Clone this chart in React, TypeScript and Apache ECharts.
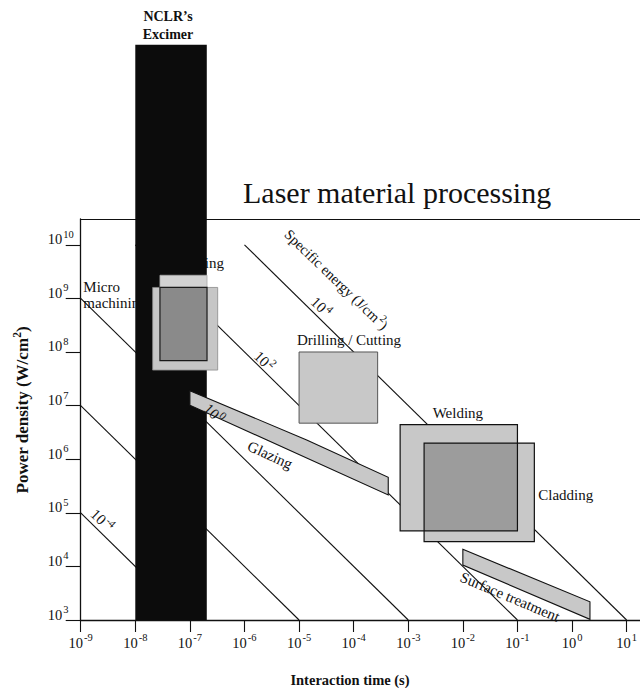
import React, { useEffect, useRef } from "react";
import * as echarts from "echarts";

// ---------- data (real values: interaction time in s, power density in W/cm2) ----------
const xTickExponents = [-9, -8, -7, -6, -5, -4, -3, -2, -1, 0, 1];
const yTickExponents = [3, 4, 5, 6, 7, 8, 9, 10];

// iso specific-energy lines (J/cm2)
const energyExponents = ["-4", "-2", "0", "2", "4"];
const energyLineStart = [[1e-9, 1e5], [1e-9, 1e7], [1e-9, 1e9], [1e-8, 1e10], [1e-6, 1e10]];
const energyLineEnd = [[1e-7, 1e3], [1e-5, 1e3], [1e-3, 1e3], [1e-1, 1e3], [1e1, 1e3]];

// rectangular process windows
const regionNames = ["Marking", "Micro machining", "Drilling / Cutting", "Welding", "Cladding"];
const regionTime = [[2.83e-8, 2.06e-7], [2.08e-8, 3.23e-7], [1e-5, 2.75e-4], [7.1e-4, 1e-1], [1.95e-3, 0.204]];
const regionPower = [[6.9e7, 2.7e9], [4.6e7, 1.6e9], [4.7e6, 1e8], [4.6e4, 4.4e6], [2.9e4, 2.0e6]];

// polygonal process windows
const glazingTime = [1e-7, 1.38e-5, 4.3e-4, 4.3e-4, 1e-7];
const glazingPower = [1.9e7, 2.28e6, 4.6e5, 2.15e5, 1.02e7];
const surfaceTime = [1e-2, 2.13, 2.13, 1e-2];
const surfacePower = [2.08e4, 2.19e3, 1.03e3, 1.06e4];

// NCLR's excimer band
const excimerTime = [1e-8, 2.04e-7];
const excimerPower = [1e3, 5.4e13];

// ---------- annotation anchors (log10 time, log10 power) ----------
const energyLabelAt: (number[] | null)[] = [[-8.59, 4.88], null, [-6.54, 6.87], [-5.62, 7.85], [-4.58, 8.86]];
const specificEnergyAt = [-4.30, 9.37];
const microLabelAt = [-8.952, 9.06];
const markingLabelAt = [-6.375, 9.66];
const drillingLabelAt = [-5.04, 8.224];
const weldingLabelAt = [-2.553, 6.862];
const claddingLabelAt = [-0.619, 5.332];
const glazingLabelAt = [-5.533, 6.078];
const surfaceLabelAt = [-1.137, 3.43];

const X_MIN = -9;
const X_MAX = 1.244;
const Y_MIN = 3;
const Y_MAX = 10.481;

const FONT = '"Liberation Serif", "Times New Roman", serif';
const L = (v: number) => Math.log10(v);

const LIGHT = "#c8c8c8";
const DARK = "#9c9c9c";
const INK = "#111111";

function rectPts(t: number[], p: number[]) {
  const t0 = L(t[0]), t1 = L(t[1]), p0 = L(p[0]), p1 = L(p[1]);
  return [[t0, p0], [t1, p0], [t1, p1], [t0, p1]];
}
function overlapPts(ta: number[], pa: number[], tb: number[], pb: number[]) {
  return rectPts(
    [Math.max(ta[0], tb[0]), Math.min(ta[1], tb[1])],
    [Math.max(pa[0], pb[0]), Math.min(pa[1], pb[1])]
  );
}
function polyPts(t: number[], p: number[]) {
  return t.map((v, i) => [L(v), L(p[i])]);
}

function polySeries(points: number[][], fill: string, stroke: string, lineWidth: number, z: number) {
  return {
    type: "custom",
    coordinateSystem: "cartesian2d",
    silent: true,
    clip: false,
    z,
    data: [[X_MIN, Y_MIN]],
    renderItem: (_params: any, api: any) => ({
      type: "polygon",
      shape: { points: points.map((pt) => api.coord(pt)) },
      style: { fill, stroke, lineWidth },
    }),
  };
}

type Lbl = {
  at: number[];
  text: string;
  rotate?: number;
  align?: string;
  size?: number;
  weight?: string;
  lineHeight?: number;
  rich?: any;
};

function textSeries(items: Lbl[], z: number) {
  return {
    type: "custom",
    coordinateSystem: "cartesian2d",
    silent: true,
    clip: false,
    z,
    data: [[X_MIN, Y_MIN]],
    renderItem: (_params: any, api: any) => ({
      type: "group",
      children: items.map((it) => {
        const c = api.coord(it.at);
        return {
          type: "text",
          x: c[0],
          y: c[1],
          rotation: ((it.rotate || 0) * Math.PI) / 180,
          style: {
            text: it.text,
            fill: INK,
            fontFamily: FONT,
            fontSize: it.size || 15,
            fontWeight: it.weight || "normal",
            lineHeight: it.lineHeight,
            align: it.align || "center",
            verticalAlign: "middle",
            rich: it.rich,
          },
        };
      }),
    }),
  };
}

const supRich = (size: number, weight = "normal") => ({
  b: { fontSize: size, fontFamily: FONT, fontWeight: weight, lineHeight: 18, verticalAlign: "bottom", fill: INK },
  s: { fontSize: size - 4, fontFamily: FONT, fontWeight: weight, lineHeight: 12, verticalAlign: "top", fill: INK, padding: [0, 0, 0, 1] },
});

export default function App() {
  const ref = useRef<HTMLDivElement>(null);

  useEffect(() => {
    if (!ref.current) return;
    const chart = echarts.init(ref.current, undefined, { renderer: "svg" });

    const series: any[] = [];

    // specific energy lines
    energyLineStart.forEach((s, i) => {
      series.push({
        type: "line",
        name: "E" + energyExponents[i],
        silent: true,
        z: 2,
        symbol: "none",
        lineStyle: { color: INK, width: 1.1 },
        data: [[L(s[0]), L(s[1])], [L(energyLineEnd[i][0]), L(energyLineEnd[i][1])]],
      });
    });

    // labels hidden behind the excimer band
    series.push(
      textSeries(
        [
          { at: microLabelAt, text: "Micro\nmachining", align: "left", lineHeight: 16 },
          { at: markingLabelAt, text: regionNames[0], align: "right" },
        ],
        3
      )
    );

    // excimer band
    series.push(polySeries(rectPts(excimerTime, excimerPower), "#0c0c0c", "none", 0, 4));

    // fills
    series.push(polySeries(rectPts(regionTime[0], regionPower[0]), "#d2d2d2", "#aaaaaa", 0.8, 5));
    series.push(polySeries(rectPts(regionTime[1], regionPower[1]), "#c6c6c6", "#8a8a8a", 0.8, 5));
    series.push(polySeries(overlapPts(regionTime[0], regionPower[0], regionTime[1], regionPower[1]), "#8a8a8a", "#1a1a1a", 1.2, 5));
    series.push(polySeries(rectPts(regionTime[2], regionPower[2]), LIGHT, "#555555", 1, 5));
    series.push(polySeries(polyPts(glazingTime, glazingPower), LIGHT, INK, 1.1, 5));
    series.push(polySeries(polyPts(surfaceTime, surfacePower), LIGHT, INK, 1.1, 5));
    series.push(polySeries(rectPts(regionTime[3], regionPower[3]), LIGHT, "none", 0, 5));
    series.push(polySeries(rectPts(regionTime[4], regionPower[4]), LIGHT, "none", 0, 5));
    series.push(polySeries(overlapPts(regionTime[3], regionPower[3], regionTime[4], regionPower[4]), DARK, "none", 0, 5));
    // outlines of welding / cladding
    series.push(polySeries(rectPts(regionTime[3], regionPower[3]), "none", INK, 1.2, 6));
    series.push(polySeries(rectPts(regionTime[4], regionPower[4]), "none", INK, 1.2, 6));

    // labels on top
    const eLabels: Lbl[] = [];
    energyLabelAt.forEach((at, i) => {
      if (!at) return;
      eLabels.push({ at, text: `{b|10}{s|${energyExponents[i]}}`, rotate: -44, rich: supRich(15) });
    });
    eLabels.push({
      at: specificEnergyAt,
      text: "{b|Specific energy (J/cm}{s|2}{b|)}",
      rotate: -44,
      rich: supRich(14.5),
    });
    eLabels.push({ at: drillingLabelAt, text: regionNames[2], align: "left" });
    eLabels.push({ at: weldingLabelAt, text: regionNames[3], align: "left" });
    eLabels.push({ at: claddingLabelAt, text: regionNames[4], align: "left" });
    eLabels.push({ at: glazingLabelAt, text: "Glazing", rotate: -24.5 });
    eLabels.push({ at: surfaceLabelAt, text: "Surface treatment", rotate: -22.7 });
    series.push(textSeries(eLabels, 7));

    const option: any = {
      animation: false,
      backgroundColor: "#ffffff",
      textStyle: { fontFamily: FONT, color: INK },
      grid: { left: 80.7, right: 0, top: 219, bottom: 68, containLabel: false },
      xAxis: [
        {
          type: "value",
          min: X_MIN,
          max: X_MAX,
          interval: 1,
          axisLine: { show: true, onZero: false, lineStyle: { color: INK, width: 1.3 } },
          axisTick: { show: true, length: 12, inside: false, customValues: xTickExponents, lineStyle: { color: INK, width: 1.1 } },
          axisLabel: {
            show: true,
            margin: 12,
            customValues: xTickExponents,
            formatter: (v: number) => `{b|10}{s|${Math.round(v)}}`,
            rich: supRich(14.5),
          },
          splitLine: { show: false },
        },
        {
          type: "value",
          position: "top",
          min: X_MIN,
          max: X_MAX,
          interval: 1,
          axisLine: { show: true, onZero: false, lineStyle: { color: INK, width: 1.2 } },
          axisTick: { show: false },
          axisLabel: { show: false },
          splitLine: { show: false },
        },
      ],
      yAxis: {
        type: "value",
        min: Y_MIN,
        max: Y_MAX,
        interval: 1,
        axisLine: { show: true, onZero: false, lineStyle: { color: INK, width: 1.3 } },
        axisTick: { show: true, length: 15, inside: false, customValues: yTickExponents, lineStyle: { color: INK, width: 1.1 } },
        axisLabel: {
          show: true,
          margin: 33,
          align: "left",
          verticalAlign: "bottom",
          padding: [0, 0, -2, 0],
          customValues: yTickExponents,
          formatter: (v: number) => `{b|10}{s|${Math.round(v)}}`,
          rich: supRich(14.5),
        },
        splitLine: { show: false },
      },
      graphic: [
        {
          type: "text",
          x: 243,
          y: 192,
          style: { text: "Laser material processing", fill: INK, fontFamily: FONT, fontSize: 30, align: "left", verticalAlign: "middle" },
        },
        {
          type: "text",
          x: 168,
          y: 25,
          style: {
            text: "NCLR\u2019s\nExcimer",
            fill: INK,
            fontFamily: FONT,
            fontSize: 14,
            fontWeight: "bold",
            lineHeight: 18,
            align: "center",
            verticalAlign: "middle",
          },
        },
        {
          type: "text",
          x: 350,
          y: 680,
          style: { text: "Interaction time (s)", fill: INK, fontFamily: FONT, fontSize: 14.5, fontWeight: "bold", align: "center", verticalAlign: "middle" },
        },
        {
          type: "text",
          x: 21,
          y: 410,
          rotation: Math.PI / 2,
          style: {
            text: "{t|Power density (W/cm}{s|2}{t|)}",
            fill: INK,
            align: "center",
            verticalAlign: "middle",
            rich: {
              t: { fontFamily: FONT, fontSize: 17, fontWeight: "bold", lineHeight: 20, verticalAlign: "bottom", fill: INK },
              s: { fontFamily: FONT, fontSize: 11.5, fontWeight: "bold", lineHeight: 14, verticalAlign: "top", fill: INK },
            },
          },
        },
      ],
      series,
    };

    chart.setOption(option);
    return () => chart.dispose();
  }, []);

  return <div ref={ref} style={{ position: "fixed", left: 0, top: 0, width: 640, height: 688, background: "#fff" }} />;
}
